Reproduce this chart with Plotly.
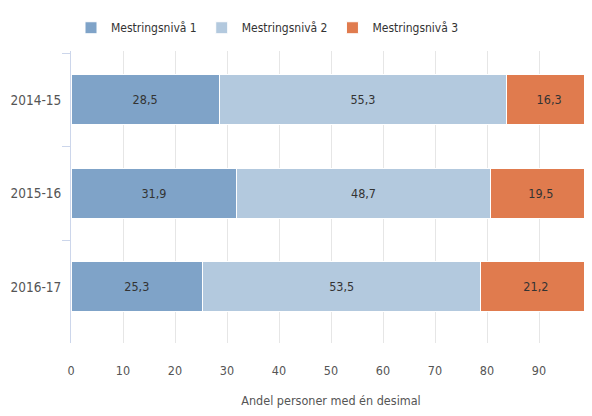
import plotly.graph_objects as go

categories = ["2014-15", "2015-16", "2016-17"]
series_names = ["Mestringsnivå 1", "Mestringsnivå 2", "Mestringsnivå 3"]
niva1 = [28.5, 31.9, 25.3]
niva2 = [55.3, 48.7, 53.5]
niva3 = [16.3, 19.5, 21.2]
x_ticks = [0, 10, 20, 30, 40, 50, 60, 70, 80, 90, 100]
colors = ["#7fa3c8", "#b3c9de", "#e07b4e"]

FONT = "DejaVu Sans Condensed, sans-serif"

fig = go.Figure()
for name, vals, col in zip(series_names, [niva1, niva2, niva3], colors):
    fig.add_trace(go.Bar(
        y=categories, x=vals, name=name, orientation="h",
        marker=dict(color=col, line=dict(color="#ffffff", width=1)),
        texttemplate="%{x:.1f}", textposition="inside",
        insidetextanchor="middle",
        textfont=dict(family=FONT, size=12.5, color="#333333"),
        hoverinfo="x+name",
    ))

# page body has an 8px margin, so the figure is sized/offset to compensate
fig.update_layout(
    width=584, height=400,
    margin=dict(l=63, r=1, t=43, b=65, autoexpand=False),
    barmode="stack", bargap=0.465,
    separators=",.",
    plot_bgcolor="#ffffff", paper_bgcolor="#ffffff",
    font=dict(family=FONT, color="#333333"),
    showlegend=True,
    legend=dict(orientation="h", x=0.0, xanchor="left", y=1.03, yanchor="bottom",
                yref="paper", font=dict(family=FONT, size=12, color="#333333"),
                itemwidth=30, traceorder="normal", bgcolor="rgba(0,0,0,0)"),
    xaxis=dict(range=[0, 100], tickvals=x_ticks, ticktext=[str(v) for v in x_ticks],
               showgrid=True, gridcolor="#e6e6e6", gridwidth=1, zeroline=False,
               showline=False, ticks="", ticklabelstandoff=18, automargin=False,
               tickfont=dict(family=FONT, size=12.5, color="#555555"),
               title=dict(text="Andel personer med én desimal", standoff=26,
                          font=dict(family=FONT, size=12.5, color="#555555")),
               fixedrange=True),
    yaxis=dict(type="category", categoryorder="array", categoryarray=categories,
               range=[2.6, -0.524], showline=True, linecolor="#ccd6eb", linewidth=1,
               ticks="outside", ticklen=8, tickcolor="#ccd6eb", tickson="boundaries",
               ticklabelstandoff=6,
               showgrid=False, automargin=False,
               tickfont=dict(family=FONT, size=13.5, color="#555555"),
               fixedrange=True),
)

fig.write_html("out.html")
